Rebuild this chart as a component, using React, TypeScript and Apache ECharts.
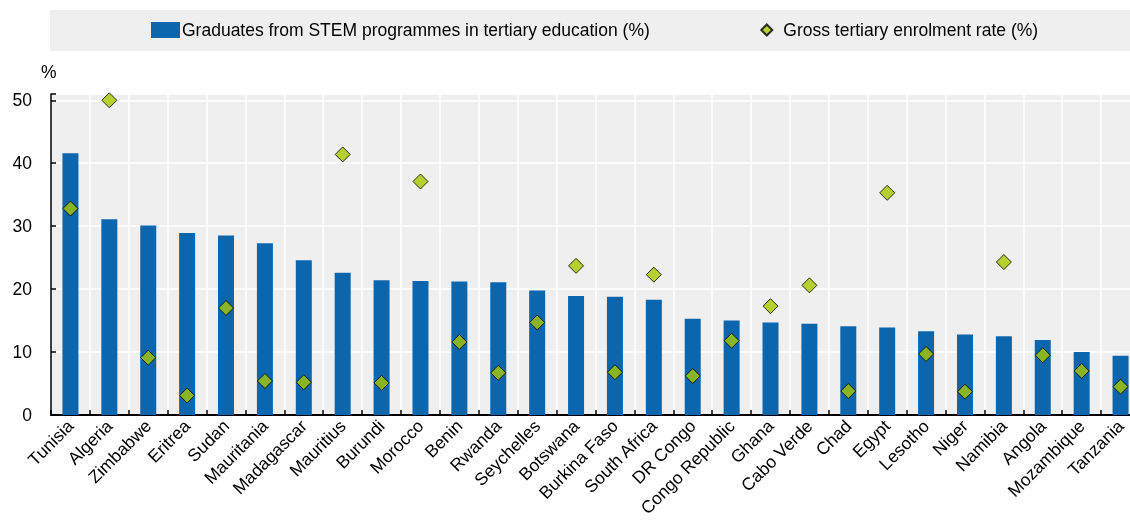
import React, { useEffect, useRef } from "react";
import * as echarts from "echarts";

const categories = [
  "Tunisia", "Algeria", "Zimbabwe", "Eritrea", "Sudan", "Mauritania", "Madagascar",
  "Mauritius", "Burundi", "Morocco", "Benin", "Rwanda", "Seychelles", "Botswana",
  "Burkina Faso", "South Africa", "DR Congo", "Congo Republic", "Ghana", "Cabo Verde",
  "Chad", "Egypt", "Lesotho", "Niger", "Namibia", "Angola", "Mozambique", "Tanzania",
];

const stemGraduates = [
  41.6, 31.1, 30.1, 28.9, 28.5, 27.3, 24.6, 22.6, 21.4, 21.3, 21.2, 21.1, 19.8, 18.9,
  18.8, 18.3, 15.3, 15.0, 14.7, 14.5, 14.1, 13.9, 13.3, 12.8, 12.5, 11.9, 10.0, 9.4,
];

const enrolmentRate = [
  32.8, 50.0, 9.1, 3.1, 17.0, 5.4, 5.2, 41.4, 5.1, 37.1, 11.6, 6.7, 14.7, 23.7,
  6.8, 22.3, 6.2, 11.8, 17.3, 20.6, 3.8, 35.3, 9.7, 3.7, 24.3, 9.5, 7.0, 4.5,
];

const yTicks = [0, 10, 20, 30, 40, 50];

const seriesNames = [
  "Graduates from STEM programmes in tertiary education (%)",
  "Gross tertiary enrolment rate (%)",
];

const FONT = "'Liberation Sans', Arial, sans-serif";
const FS = 17.5;

export default function App() {
  const ref = useRef<HTMLDivElement>(null);
  useEffect(() => {
    if (!ref.current) return;
    const chart = echarts.init(ref.current, undefined, { renderer: "svg" });
    chart.setOption({
      animation: false,
      textStyle: { fontFamily: FONT },
      graphic: [
        {
          type: "rect",
          left: 50,
          top: 10,
          shape: { width: 1090, height: 41 },
          style: { fill: "#efefef" },
          z: -10,
        },
        {
          type: "text",
          left: 41,
          top: 63,
          style: { text: "%", fontSize: FS, fill: "#000", fontFamily: FONT },
        },
      ],
      legend: {
        left: 151,
        top: 21,
        padding: 0,
        itemWidth: 29,
        itemHeight: 16,
        itemGap: 108,
        textStyle: { fontSize: FS, color: "#000", fontFamily: FONT, padding: [0, 0, 0, -3] },
        data: [
          { name: seriesNames[0], icon: "rect" },
          { name: seriesNames[1], icon: "path://M-1.45,-1.45M0,-1L1,0L0,1L-1,0ZM1.45,1.45" },
        ],
      },
      grid: {
        left: 51,
        top: 94,
        width: 1089,
        height: 321,
        outerBoundsMode: "none",
        containLabel: false,
        show: true,
        backgroundColor: "#efefef",
        borderWidth: 0,
      },
      xAxis: {
        type: "category",
        data: categories,
        axisLine: { lineStyle: { color: "#000", width: 2 } },
        axisTick: { show: true, inside: true, length: 5, lineStyle: { color: "#000", width: 1.5 } },
        splitLine: { show: true, lineStyle: { color: "#ffffff", width: 1.5 } },
        axisLabel: {
          rotate: 45,
          fontSize: FS,
          color: "#000",
          margin: 8,
          interval: 0,
          fontFamily: FONT,
        },
      },
      yAxis: {
        type: "value",
        min: 0,
        max: 51,
        interval: 10,
        axisLine: { show: true, lineStyle: { color: "#000", width: 1.5 } },
        axisTick: { show: true, inside: true, length: 5, lineStyle: { color: "#000", width: 1.5 } },
        splitLine: { show: true, lineStyle: { color: "#ffffff", width: 1.5 } },
        axisLabel: {
          fontSize: FS,
          color: "#000",
          margin: 19,
          fontFamily: FONT,
          formatter: (v: number) => (yTicks.includes(v) ? String(v) : ""),
        },
      },
      series: [
        {
          name: seriesNames[0],
          type: "bar",
          data: stemGraduates,
          barWidth: 16,
          itemStyle: { color: "#0c66ad" },
          z: 2,
        },
        {
          name: seriesNames[1],
          type: "scatter",
          data: enrolmentRate,
          symbol: "diamond",
          symbolSize: 15,
          symbolKeepAspect: true,
          itemStyle: { color: "#a9c800", borderColor: "#000", borderWidth: 1 },
          z: 3,
        },
      ],
    });
    return () => chart.dispose();
  }, []);
  return (
    <div
      ref={ref}
      style={{ position: "fixed", left: 0, top: 0, width: 1130, height: 520 }}
    />
  );
}
